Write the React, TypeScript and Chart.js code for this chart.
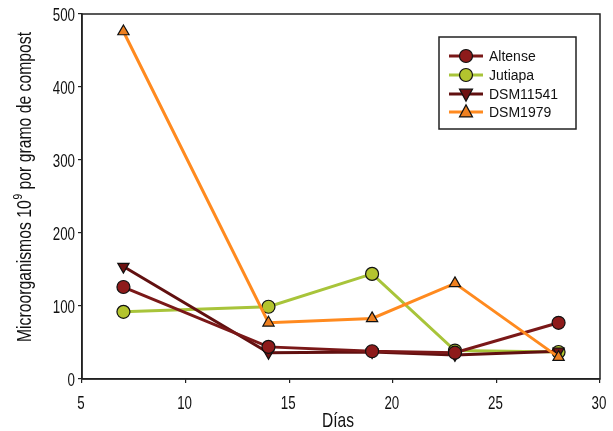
import React, { useEffect, useRef } from "react";
import { Chart, registerables } from "chart.js";

Chart.register(...registerables);

const days = [7, 14, 19, 23, 28];
const altense = [126, 44, 38, 36, 77];
const jutiapa = [92, 99, 144, 39, 37];
const dsm11541 = [154, 36, 37, 33, 38];
const dsm1979 = [476, 77, 83, 131, 30];
const seriesNames = ["Altense", "Jutiapa", "DSM11541", "DSM1979"];
const xTicks = [5, 10, 15, 20, 25, 30];
const yTicks = [0, 100, 200, 300, 400, 500];
const xTitle = "Días";
const yTitleA = "Microorganismos 10";
const yTitleSup = "9";
const yTitleB = " por gramo de compost";

const FONT = "'Liberation Sans', Arial, sans-serif";

function condensedText(ctx: CanvasRenderingContext2D, text: string, x: number, y: number, sx: number, align: "left" | "center" | "right") {
  const w = ctx.measureText(text).width * sx;
  let left = x;
  if (align === "center") left = x - w / 2;
  if (align === "right") left = x - w;
  ctx.save();
  ctx.translate(left, y);
  ctx.scale(sx, 1);
  ctx.textAlign = "left";
  ctx.fillText(text, 0, 0);
  ctx.restore();
}

const frameAndTitles = {
  id: "frameAndTitles",
  afterDraw(chart: any) {
    const { ctx, chartArea } = chart;
    const xs = chart.scales.x;
    const ys = chart.scales.y;
    ctx.save();
    ctx.strokeStyle = "#222";
    ctx.lineWidth = 1.5;
    ctx.strokeRect(chartArea.left, chartArea.top, chartArea.right - chartArea.left, chartArea.bottom - chartArea.top);
    ctx.fillStyle = "#111";
    ctx.textBaseline = "alphabetic";
    // tick labels
    ctx.font = `18px ${FONT}`;
    yTicks.forEach((v) => {
      const py = ys.getPixelForValue(v);
      condensedText(ctx, String(v), 75, py + 7, 0.74, "right");
    });
    xTicks.forEach((v) => {
      const px = xs.getPixelForValue(v);
      condensedText(ctx, String(v), px - 1, 409, 0.74, "center");
    });
    // x title
    ctx.font = `21px ${FONT}`;
    condensedText(ctx, xTitle, (chartArea.left + chartArea.right) / 2 - 3, 427, 0.74, "center");
    // y title with superscript
    ctx.translate(31, 187);
    ctx.rotate(-Math.PI / 2);
    ctx.font = `20px ${FONT}`;
    const wa = ctx.measureText(yTitleA).width;
    const wb = ctx.measureText(yTitleB).width;
    ctx.font = `13px ${FONT}`;
    const ws = ctx.measureText(yTitleSup).width;
    const total = wa + ws + wb + 1;
    const sx = 310 / total;
    ctx.scale(sx, 1);
    let x = -total / 2;
    ctx.textAlign = "left";
    ctx.font = `20px ${FONT}`;
    ctx.fillText(yTitleA, x, 0);
    x += wa;
    ctx.font = `13px ${FONT}`;
    ctx.fillText(yTitleSup, x + 1, -9);
    x += ws + 1;
    ctx.font = `20px ${FONT}`;
    ctx.fillText(yTitleB, x, 0);
    ctx.restore();
  },
};

function drawMarker(ctx: CanvasRenderingContext2D, style: string, rot: number, x: number, y: number, r: number) {
  ctx.beginPath();
  if (style === "circle") {
    ctx.arc(x, y, r, 0, Math.PI * 2);
  } else {
    const s = rot === 180 ? -1 : 1;
    ctx.moveTo(x, y - s * r * 1.1);
    ctx.lineTo(x + r, y + s * r * 0.75);
    ctx.lineTo(x - r, y + s * r * 0.75);
    ctx.closePath();
  }
  ctx.fill();
  ctx.stroke();
}

const customLegend = {
  id: "customLegend",
  afterDraw(chart: any) {
    const { ctx } = chart;
    ctx.save();
    ctx.strokeStyle = "#222";
    ctx.lineWidth = 1.5;
    ctx.fillStyle = "#fff";
    ctx.fillRect(439, 37, 137, 92);
    ctx.strokeRect(439, 37, 137, 92);
    const ys = [56, 75, 94, 112];
    chart.data.datasets.forEach((ds: any, i: number) => {
      const y = ys[i];
      ctx.strokeStyle = ds.borderColor;
      ctx.lineWidth = 3;
      ctx.beginPath();
      ctx.moveTo(449, y);
      ctx.lineTo(483, y);
      ctx.stroke();
      ctx.fillStyle = ds.pointBackgroundColor;
      ctx.strokeStyle = "#111";
      ctx.lineWidth = 1.2;
      drawMarker(ctx, ds.pointStyle, ds.pointRotation || 0, 466, y, 6.5);
      ctx.fillStyle = "#111";
      ctx.font = `14px ${FONT}`;
      ctx.textAlign = "left";
      ctx.textBaseline = "middle";
      ctx.fillText(ds.label, 489, y + 1);
    });
    ctx.restore();
  },
};

export default function App() {
  const ref = useRef<HTMLCanvasElement>(null);
  useEffect(() => {
    const mk = (label: string, data: number[], line: string, fill: string, style: string, order: number, rot = 0) => ({
      label,
      data: days.map((d, i) => ({ x: d, y: data[i] })),
      borderColor: line,
      backgroundColor: fill,
      pointBackgroundColor: fill,
      pointBorderColor: "#111",
      pointBorderWidth: 1.2,
      pointRadius: 6.5,
      pointStyle: style,
      pointRotation: rot,
      borderWidth: 3,
      tension: 0,
      order,
    });
    const chart = new Chart(ref.current!, {
      type: "line",
      data: {
        datasets: [
          mk(seriesNames[0], altense, "#7A1818", "#8E1B1B", "circle", 1),
          mk(seriesNames[1], jutiapa, "#A8C43A", "#B3C42E", "circle", 3),
          mk(seriesNames[2], dsm11541, "#611010", "#6E1212", "triangle", 2, 180),
          mk(seriesNames[3], dsm1979, "#FF8A1F", "#EE8020", "triangle", 0),
        ] as any,
      },
      options: {
        animation: false,
        responsive: false,
        layout: { padding: { left: 0, top: 14, right: 13, bottom: 0 } },
        plugins: { legend: { display: false }, tooltip: { enabled: false } },
        scales: {
          x: {
            type: "linear",
            min: 5,
            max: 30,
            afterBuildTicks: (s: any) => { s.ticks = xTicks.map((v) => ({ value: v })); },
            afterFit: (s: any) => { s.height = 52; },
            grid: { drawOnChartArea: false, tickLength: 4, color: "#222", lineWidth: 1.2 },
            border: { display: true, color: "#222", width: 1.5 },
            ticks: { display: false },
          },
          y: {
            type: "linear",
            min: 0,
            max: 500,
            afterBuildTicks: (s: any) => { s.ticks = yTicks.map((v) => ({ value: v })); },
            afterFit: (s: any) => { s.width = 82; },
            grid: { drawOnChartArea: false, tickLength: 4, color: "#222", lineWidth: 1.2 },
            border: { display: true, color: "#222", width: 1.5 },
            ticks: { display: false },
          },
        },
      },
      plugins: [frameAndTitles, customLegend],
    });
    return () => chart.destroy();
  }, []);
  return (
    <div style={{ position: "fixed", left: 0, top: 0, width: 613, height: 431, background: "#fff" }}>
      <canvas ref={ref} width={613} height={431} style={{ width: 613, height: 431 }} />
    </div>
  );
}
